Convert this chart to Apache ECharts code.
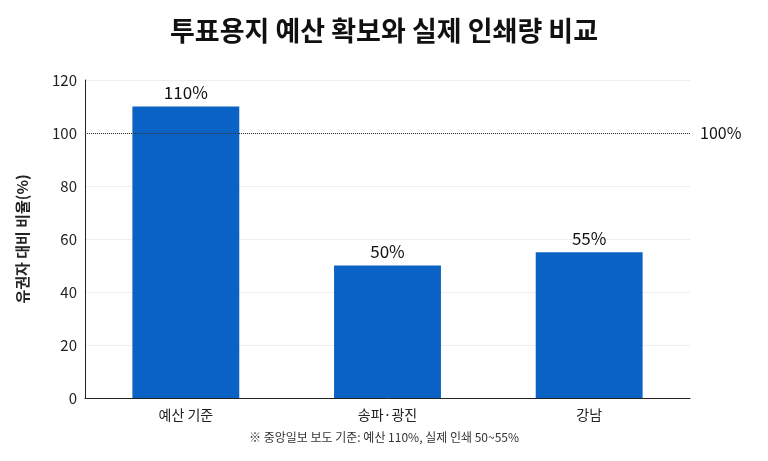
<!DOCTYPE html>
<html><head><meta charset="utf-8">
<script src="https://cdn.jsdelivr.net/npm/echarts@6/dist/echarts.min.js"></script>
<style>html,body{margin:0;padding:0;background:#fff}#c{width:768px;height:461px}</style>
</head><body><div id="c"></div>
<script>
const categories = ['예산 기준', '송파·광진', '강남'];
const values = [110, 50, 55];
const refValue = 100;
const chart = echarts.init(document.getElementById('c'));
const F = '"Noto Sans CJK KR", "Noto Sans", sans-serif';
chart.setOption({
  animation: false,
  title: { text: '투표용지 예산 확보와 실제 인쇄량 비교', left: 'center', top: 12,
    textStyle: { fontFamily: F, fontSize: 27, fontWeight: 'bold', color: '#111' } },
  graphic: [{ type: 'text', left: 'center', top: 431,
    style: { text: '※ 중앙일보 보도 기준: 예산 110%, 실제 인쇄 50~55%', font: '12px ' + F, fill: '#333' } }],
  grid: { left: 85, right: 78, top: 80, bottom: 63 },
  xAxis: { type: 'category', data: categories,
    axisLine: { lineStyle: { color: '#222' } }, axisTick: { show: false },
    axisLabel: { fontFamily: F, fontSize: 14, color: '#222', margin: 10 } },
  yAxis: { type: 'value', min: 0, max: 120, interval: 20,
    name: '유권자 대비 비율(%)', nameLocation: 'middle', nameGap: 55, nameRotate: 90,
    nameTextStyle: { fontFamily: F, fontSize: 15, fontWeight: 'bold', color: '#222' },
    axisLine: { show: true, lineStyle: { color: '#222' } }, axisTick: { show: false },
    axisLabel: { fontFamily: F, fontSize: 15, color: '#222' },
    splitLine: { lineStyle: { color: '#eee' } } },
  series: [{ type: 'bar', data: values, barWidth: '53%',
    itemStyle: { color: '#0a62c4' },
    label: { show: true, position: 'top', formatter: '{c}%', fontFamily: F, fontSize: 17, color: '#111' },
    markLine: { silent: true, symbol: 'none',
      lineStyle: { type: 'dotted', color: '#333', width: 1 },
      label: { formatter: '100%', position: 'end', fontFamily: F, fontSize: 16, color: '#111', distance: 10 },
      data: [{ yAxis: refValue }] } }]
});
</script></body></html>
